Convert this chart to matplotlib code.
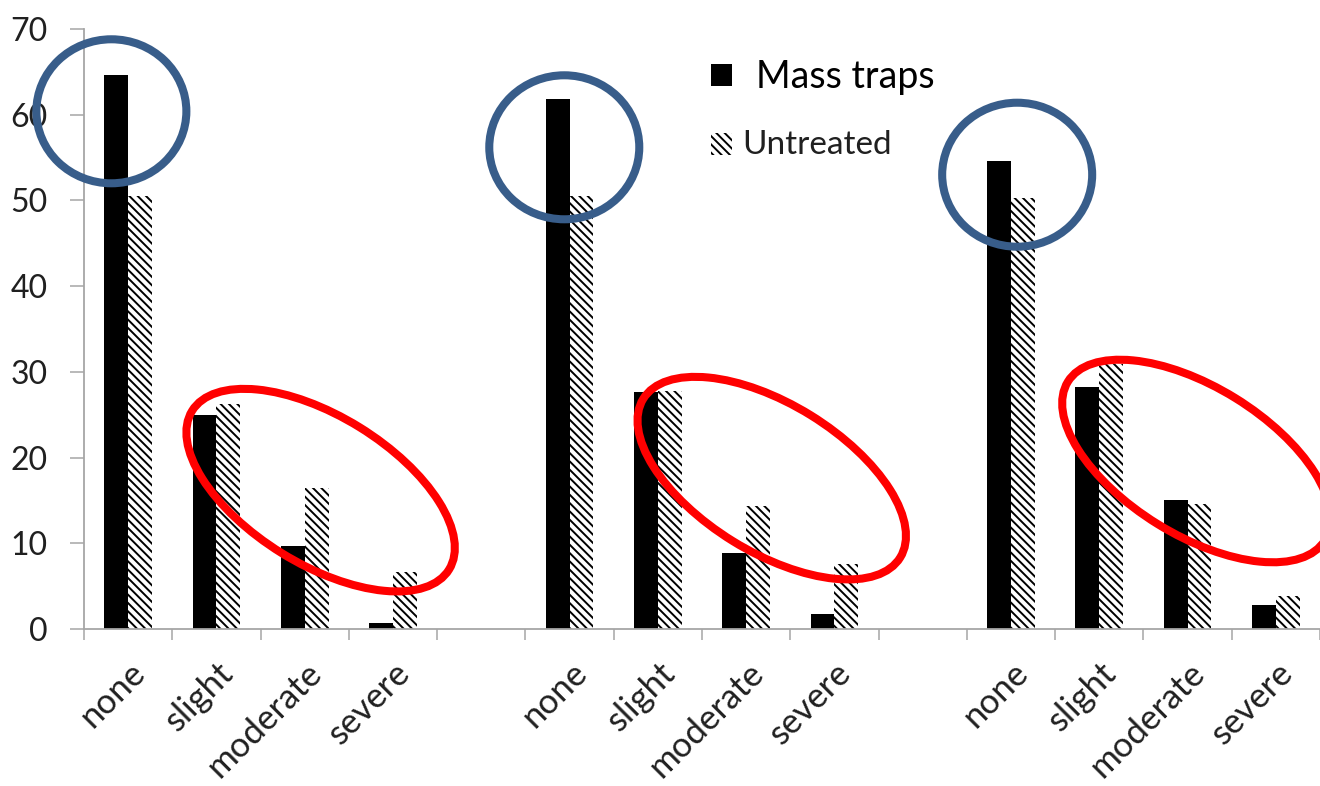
import matplotlib
matplotlib.use("Agg")
import matplotlib.pyplot as plt
import matplotlib.transforms as mtransforms
from matplotlib.patches import Ellipse, Rectangle

# ---------------- data ----------------
categories = ["none", "slight", "moderate", "severe"]
mass_traps_1 = [64.6, 25.0, 9.7, 0.7]
mass_traps_2 = [61.8, 27.6, 8.9, 1.8]
mass_traps_3 = [54.6, 28.2, 15.0, 2.8]
untreated_1 = [50.5, 26.3, 16.5, 6.7]
untreated_2 = [50.5, 27.8, 14.4, 7.6]
untreated_3 = [50.3, 30.9, 14.6, 3.8]
series_labels = ["Mass traps", "Untreated"]
y_ticks = [0, 10, 20, 30, 40, 50, 60, 70]

# annotation rings (data-space centres)
blue_centres = [(-0.19, 60.4), (4.94, 56.2), (10.07, 53.0)]
red_centres = [(2.18, 16.2), (7.29, 17.6), (12.1, 19.6)]

plt.rcParams["font.family"] = ["Lato", "DejaVu Sans"]
plt.rcParams["hatch.linewidth"] = 1.4

DPI = 100
fig = plt.figure(figsize=(13.2, 7.86), dpi=DPI)
ax = fig.add_axes([84 / 1320, 157 / 786, 1236 / 1320, 600 / 786])

mass = [mass_traps_1, mass_traps_2, mass_traps_3]
untr = [untreated_1, untreated_2, untreated_3]
width = 0.27
xs, labels = [], []
for g in range(3):
    pos = [g * 5 + i for i in range(len(categories))]
    xs += pos
    labels += categories
    ax.bar([p - width / 2 for p in pos], mass[g], width, color="black",
           edgecolor="none", zorder=2)
    ax.bar([p + width / 2 for p in pos], untr[g], width, color="white",
           edgecolor="black", linewidth=0, hatch="\\\\\\\\", zorder=2)

ax.set_xlim(-0.5, 13.5)
ax.set_ylim(0, 70)

# spines
grey = "#A6A6A6"
for s in ["top", "right"]:
    ax.spines[s].set_visible(False)
ax.spines["left"].set_color(grey)
ax.spines["bottom"].set_color(grey)
ax.spines["left"].set_linewidth(1.3)
ax.spines["bottom"].set_linewidth(1.3)

# y axis
ax.set_yticks(y_ticks)
ax.set_yticklabels([str(v) for v in y_ticks])
ax.tick_params(axis="y", direction="out", length=10, width=1.1, color=grey,
               pad=16, labelsize=23, labelcolor="#202020")

# x axis: boundaries as minor ticks, labels at centres
ax.set_xticks([b - 0.5 for b in range(15)], minor=True)
ax.set_xticks(xs)
ax.set_xticklabels(labels, rotation=45, ha="right", va="center",
                   rotation_mode="anchor")
ax.tick_params(axis="x", which="minor", direction="out", length=8, width=1.1,
               color=grey)
ax.tick_params(axis="x", which="major", length=0, pad=28, labelsize=25,
               labelcolor="#202020")
offset = mtransforms.ScaledTranslation(0.12, 0, fig.dpi_scale_trans)
for lab in ax.get_xticklabels():
    lab.set_transform(lab.get_transform() + offset)

# legend (manual, in axes fraction)
ax.add_patch(Rectangle((0.5069, 0.905), 0.017, 0.0367, transform=ax.transAxes,
                       facecolor="black", edgecolor="none", clip_on=False))
ax.add_patch(Rectangle((0.5069, 0.79), 0.017, 0.0367, transform=ax.transAxes,
                       facecolor="white", edgecolor="black", linewidth=0,
                       hatch="\\\\\\\\", clip_on=False))
ax.text(0.544, 0.9017, series_labels[0], transform=ax.transAxes,
        fontsize=27, va="baseline", ha="left", color="black")
ax.text(0.5327, 0.7917, series_labels[1], transform=ax.transAxes,
        fontsize=24, va="baseline", ha="left", color="#202020")


def ring(xc, yc, w_px, h_px, angle, color):
    tr = fig.dpi_scale_trans + mtransforms.ScaledTranslation(xc, yc, ax.transData)
    e = Ellipse((0, 0), w_px / DPI, h_px / DPI, angle=angle, transform=tr,
                facecolor="none", edgecolor=color, linewidth=5.8,
                clip_on=False, zorder=5)
    fig.add_artist(e)


for (xc, yc) in blue_centres:
    ring(xc, yc, 150, 144, 0, "#385D8A")
for (xc, yc) in red_centres:
    ring(xc, yc, 302, 148, -31.7, "#FF0000")

fig.savefig("out.png", dpi=DPI)
